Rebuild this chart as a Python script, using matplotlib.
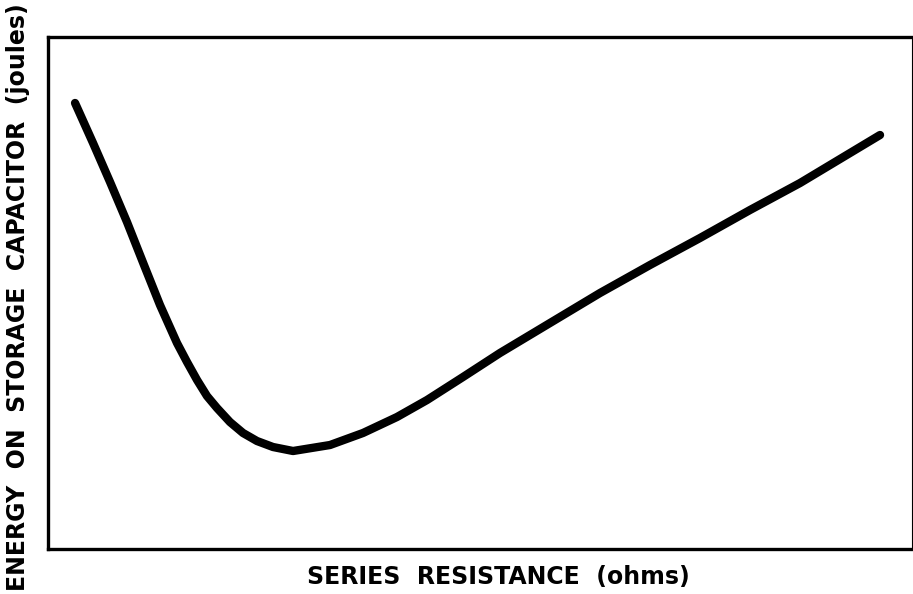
import matplotlib
matplotlib.use("Agg")
import matplotlib.pyplot as plt

# Series resistance (arbitrary units, 0-100 across the axis)
resistance = [3.13, 5.21, 7.18, 9.14, 11.11, 12.96, 14.93, 16.09, 17.25, 18.40, 19.56,
              21.06, 22.57, 24.19, 26.04, 28.36, 32.64, 36.46, 40.39, 43.87, 48.03,
              52.31, 58.10, 63.89, 69.68, 75.46, 81.25, 87.04, 91.67, 96.30]
# Energy on storage capacitor (arbitrary units, 0-100 across the axis)
energy = [87.11, 79.30, 71.68, 63.87, 55.47, 47.66, 40.23, 36.52, 33.01, 29.88, 27.54,
          24.80, 22.66, 21.09, 19.92, 19.14, 20.31, 22.66, 25.78, 29.10, 33.59,
          38.28, 44.14, 50.00, 55.47, 60.74, 66.21, 71.48, 76.17, 80.86]

x_label = "SERIES  RESISTANCE  (ohms)"
y_label = "ENERGY  ON  STORAGE  CAPACITOR  (joules)"

fig = plt.figure(figsize=(9.13, 5.94), dpi=100)
ax = fig.add_axes([48/913, 1-549/594, 864/913, 512/594])
ax.plot(resistance, energy, color="black", lw=6.0, solid_capstyle="round",
        solid_joinstyle="round")
ax.set_xlim(0, 100)
ax.set_ylim(0, 100)
ax.set_xticks([])
ax.set_yticks([])
for s in ["left", "bottom", "top"]:
    ax.spines[s].set_linewidth(2.4)
ax.spines["right"].set_linewidth(0.8)

fig.text(498/913, 1-577/594, x_label, ha="center", va="center",
         fontsize=17, fontweight="bold", family="DejaVu Sans")
fig.text(18/913, 1-297/594, y_label, ha="center", va="center", rotation=90,
         fontsize=17, fontweight="bold", family="DejaVu Sans")

fig.savefig("out.png", dpi=100, facecolor="white")
